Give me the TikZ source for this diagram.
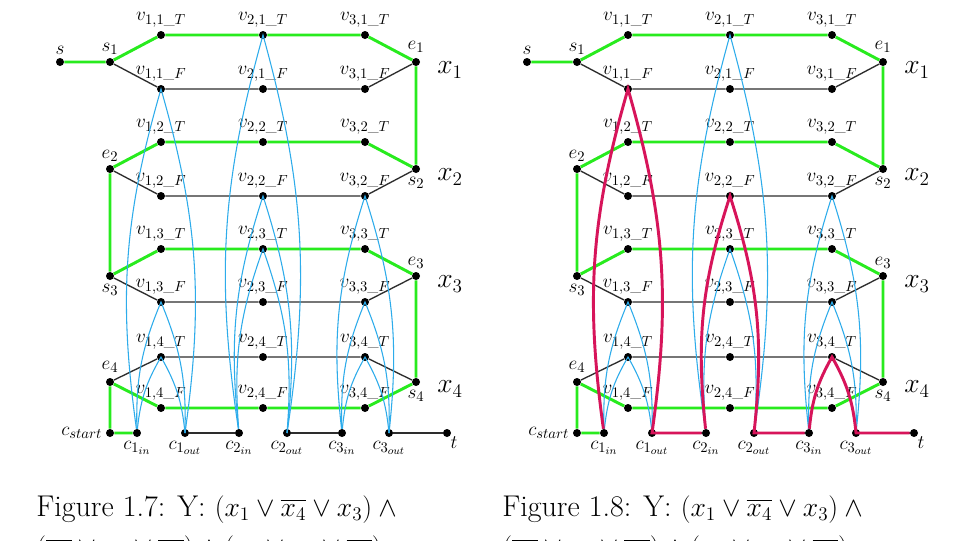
\documentclass[tikz,border=0pt]{standalone}
\usepackage{amsmath}
\definecolor{gr}{RGB}{40,235,30}
\definecolor{bl}{RGB}{45,172,235}
\definecolor{rd}{RGB}{215,20,90}
\definecolor{dk}{RGB}{45,45,45}
\tikzset{
 dot/.style={circle,fill=black,inner sep=0pt,minimum size=6pt},
 gpath/.style={draw=gr,line width=2.2pt},
 kpath/.style={draw=dk,line width=1pt},
 bpath/.style={draw=bl,line width=0.8pt},
 rpath/.style={draw=rd,line width=2.2pt},
 vl/.style={font=\fontsize{15.5}{17}\selectfont,inner sep=1pt,label distance=1.5pt},
 xl/.style={font=\fontsize{20}{22}\selectfont,inner sep=0pt},
 captext/.style={font=\fontsize{22.5}{27}\selectfont,inner sep=0pt,anchor=base west},
}
\newcommand\hamfig{%
 \node[dot,label={[vl]above:$s$}] (s) at (60,62) {};
 \node[dot,label={[vl]above:$s_1$}] (s1) at (110,62) {};
 \node[dot,label={[vl,label distance=3pt]above:$e_1$}] (e1) at (416,62) {};
 \node[dot,label={[vl]above:$e_2$}] (e2) at (110,169) {};
 \node[dot,label={[vl]below:$s_2$}] (s2) at (416,169) {};
 \node[dot,label={[vl]below:$s_3$}] (s3) at (110,276) {};
 \node[dot,label={[vl]above:$e_3$}] (e3) at (416,276) {};
 \node[dot,label={[vl,label distance=3pt]above:$e_4$}] (e4) at (110,382) {};
 \node[dot,label={[vl]below:$s_4$}] (s4) at (416,382) {};
 \foreach \c/\x in {1/161,2/263,3/365}{
  \foreach \r/\yt/\yf in {1/35/89,2/142/196,3/249/302,4/357/408}{
   \node[dot,label={[vl]above:$v_{\c,\r\_T}$}] (v\c\r T) at (\x,\yt) {};
   \node[dot,label={[vl]above:$v_{\c,\r\_F}$}] (v\c\r F) at (\x,\yf) {};
  }}
 \node[dot,label={[vl]left:$c_{start}$}] (cstart) at (110,433) {};
 \node[dot,label={[vl]below:$c_{1_{in}}$}] (cin1) at (137,433) {};
 \node[dot,label={[vl]below:$c_{1_{out}}$}] (cout1) at (185,433) {};
 \node[dot,label={[vl]below:$c_{2_{in}}$}] (cin2) at (239,433) {};
 \node[dot,label={[vl]below:$c_{2_{out}}$}] (cout2) at (287,433) {};
 \node[dot,label={[vl]below:$c_{3_{in}}$}] (cin3) at (342,433) {};
 \node[dot,label={[vl]below:$c_{3_{out}}$}] (cout3) at (389,433) {};
 \node[dot,label={[vl,label distance=-1pt]below right:$t$}] (t) at (447,433) {};
 \node[xl] (x1) at (450,70) {$x_1$};
 \node[xl] (x2) at (450,177) {$x_2$};
 \node[xl] (x3) at (450,284) {$x_3$};
 \node[xl] (x4) at (450,389) {$x_4$};
 \draw[gpath] (s) -- (s1) -- (v11T) -- (v21T) -- (v31T) -- (e1) -- (s2) -- (v32T) -- (v22T) -- (v12T) -- (e2)
   -- (s3) -- (v13T) -- (v23T) -- (v33T) -- (e3) -- (s4) -- (v34F) -- (v24F) -- (v14F) -- (e4) -- (cstart) -- (cin1);
 \draw[kpath] (s1) -- (v11F) -- (v21F) -- (v31F) -- (e1);
 \draw[kpath] (s2) -- (v32F) -- (v22F) -- (v12F) -- (e2);
 \draw[kpath] (s3) -- (v13F) -- (v23F) -- (v33F) -- (e3);
 \draw[kpath] (s4) -- (v34T) -- (v24T) -- (v14T) -- (e4);
 \draw[kpath] (cout1) -- (cin2) (cout2) -- (cin3) (cout3) -- (t);
 \foreach \v/\k in {v11F/1,v13F/1,v14T/1,v21T/2,v22F/2,v23T/2,v32F/3,v33F/3,v34T/3}
   \draw[bpath] (cin\k) to[bend left=12] (\v) to[bend left=12] (cout\k);
}
\begin{document}
\begin{tikzpicture}[x=0.75pt,y=-0.75pt]
\useasboundingbox (0,0) rectangle (960,540);
\clip (0,0) rectangle (960,540);
\fill[white] (0,0) rectangle (960,540);
\begin{scope}[name prefix=L-]
 \hamfig
\end{scope}
\begin{scope}[name prefix=R-,shift={(467,0)}]
 \hamfig
 \draw[rpath] (cin1) to[bend left=12] (v11F) to[bend left=12] (cout1) -- (cin2)
   to[bend left=12] (v22F) to[bend left=12] (cout2) -- (cin3)
   to[bend left=12] (v34T) to[bend left=12] (cout3) -- (t);
\end{scope}
\node[captext] (capL1) at (36,516) {Figure 1.7: Y: $(x_1\vee\overline{x_4}\vee x_3)\mathbin{\wedge}{}$};
\node[captext] (capL2) at (36,556) {$(\overline{x_1}\vee x_2\vee\overline{x_3})\wedge(x_2\vee x_3\vee\overline{x_4})$};
\node[captext] (capR1) at (502,516) {Figure 1.8: Y: $(x_1\vee\overline{x_4}\vee x_3)\mathbin{\wedge}{}$};
\node[captext] (capR2) at (502,556) {$(\overline{x_1}\vee x_2\vee\overline{x_3})\wedge(x_2\vee x_3\vee\overline{x_4})$};
\end{tikzpicture}
\end{document}
